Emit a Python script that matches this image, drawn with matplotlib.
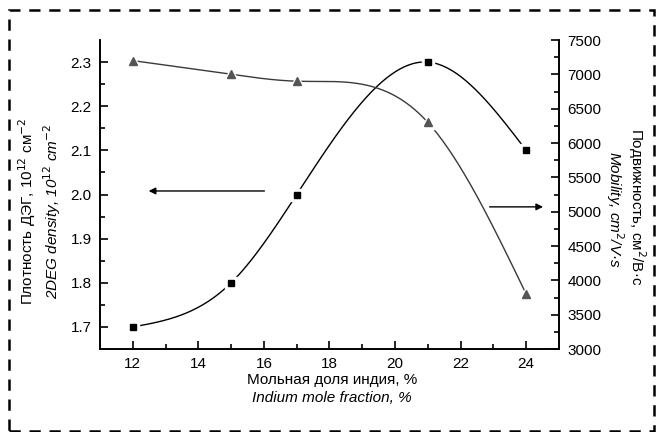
import numpy as np
import matplotlib
matplotlib.use("Agg")
import matplotlib.pyplot as plt
from matplotlib.patches import Rectangle

plt.rcParams['font.family'] = ['Liberation Sans', 'DejaVu Sans']

# indium mole fraction, %
indium = [12, 15, 17, 21, 24]
# 2DEG density, 1e12 cm^-2
density = [1.70, 1.80, 2.00, 2.30, 2.10]
# mobility, cm^2/V s
mobility = [7200, 7000, 6900, 6300, 3800]


def natural_spline(x, y, n=300):
    x = np.asarray(x, float)
    y = np.asarray(y, float)
    h = np.diff(x)
    m = len(x)
    A = np.zeros((m, m))
    b = np.zeros(m)
    A[0, 0] = A[-1, -1] = 1
    for i in range(1, m - 1):
        A[i, i - 1] = h[i - 1]
        A[i, i] = 2 * (h[i - 1] + h[i])
        A[i, i + 1] = h[i]
        b[i] = 6 * ((y[i + 1] - y[i]) / h[i] - (y[i] - y[i - 1]) / h[i - 1])
    M = np.linalg.solve(A, b)
    xs = np.linspace(x[0], x[-1], n)
    k = np.clip(np.searchsorted(x, xs) - 1, 0, m - 2)
    t0 = xs - x[k]
    t1 = x[k + 1] - xs
    hk = h[k]
    ys = (M[k] * t1**3 + M[k + 1] * t0**3) / (6 * hk) \
        + (y[k] / hk - M[k] * hk / 6) * t1 \
        + (y[k + 1] / hk - M[k + 1] * hk / 6) * t0
    return xs, ys


fig = plt.figure(figsize=(6.57, 4.32), dpi=100)
ax = fig.add_axes([0.1522, 0.1921, 0.6986, 0.7153])
ax2 = ax.twinx()

# density (left axis), squares
xs, ys = natural_spline(indium, density)
ax.plot(xs, ys, color='black', lw=1.0, zorder=2)
ax.plot(indium, density, 's', ms=9, color='white', zorder=3)
ax.plot(indium, density, 's', ms=5, color='black', zorder=4)

# mobility (right axis), triangles
xs, ys = natural_spline(indium, mobility)
ax2.plot(xs, ys, color='#3a3a3a', lw=1.0, zorder=2)
ax2.plot(indium, mobility, '^', ms=10, color='white', zorder=3)
ax2.plot(indium, mobility, '^', ms=6, color='#555555', zorder=4)

ax.set_xlim(11, 25)
ax.set_ylim(1.65, 2.35)
ax2.set_ylim(3000, 7500)

ax.set_xticks(np.arange(12, 25, 2))
ax.set_xticks(np.arange(13, 25, 2), minor=True)
ax.set_yticks(np.arange(1.7, 2.31, 0.1))
ax.set_yticks(np.arange(1.75, 2.31, 0.1), minor=True)
ax.set_yticklabels([f"{v:.1f}" for v in np.arange(1.7, 2.31, 0.1)])
ax2.set_yticks(np.arange(3000, 7501, 500))
ax2.set_yticks(np.arange(3250, 7500, 500), minor=True)

for a in (ax, ax2):
    a.spines['top'].set_visible(False)
    for s in a.spines.values():
        s.set_linewidth(1.2)
    a.tick_params(which='major', direction='in', length=6, width=1.2,
                  labelsize=11, pad=6)
    a.tick_params(which='minor', direction='in', length=3.5, width=1.2)

# arrows pointing to the matching axis
ax.annotate('', xy=(12.4, 2.008), xytext=(16.1, 2.008),
            arrowprops=dict(arrowstyle='-|>', color='black', lw=1.0,
                            mutation_scale=10))
ax2.annotate('', xy=(24.6, 5070), xytext=(22.8, 5070),
             arrowprops=dict(arrowstyle='-|>', color='black', lw=1.0,
                             mutation_scale=10))

# axis titles, Russian upright and English italic
fig.text(0.041, 1 - 211 / 432, 'Плотность ДЭГ, 10$^{12}$ см$^{-2}$',
         rotation=90, ha='center', va='center', fontsize=11)
fig.text(0.079, 1 - 211 / 432, '2DEG density, 10$^{12}$ cm$^{-2}$',
         rotation=90, ha='center', va='center', fontsize=11, style='italic')
fig.text(637 / 657, 1 - 207 / 432, 'Подвижность, см$^2$/В·с',
         rotation=270, ha='center', va='center', fontsize=11)
fig.text(615 / 657, 1 - 209 / 432, 'Mobility, cm$^2$/V·s',
         rotation=270, ha='center', va='center', fontsize=11, style='italic')
fig.text(332 / 657, 1 - 380 / 432, 'Мольная доля индия, %',
         ha='center', va='center', fontsize=11)
fig.text(332 / 657, 1 - 398 / 432, 'Indium mole fraction, %',
         ha='center', va='center', fontsize=11, style='italic')

# dashed frame around the whole figure
fig.patches.append(Rectangle((9 / 657, 1 / 432), 645 / 657, 421 / 432,
                             transform=fig.transFigure, fill=False,
                             edgecolor='black', lw=1.8,
                             linestyle=(0, (4.5, 3.5))))

fig.savefig('out.png', dpi=100)
